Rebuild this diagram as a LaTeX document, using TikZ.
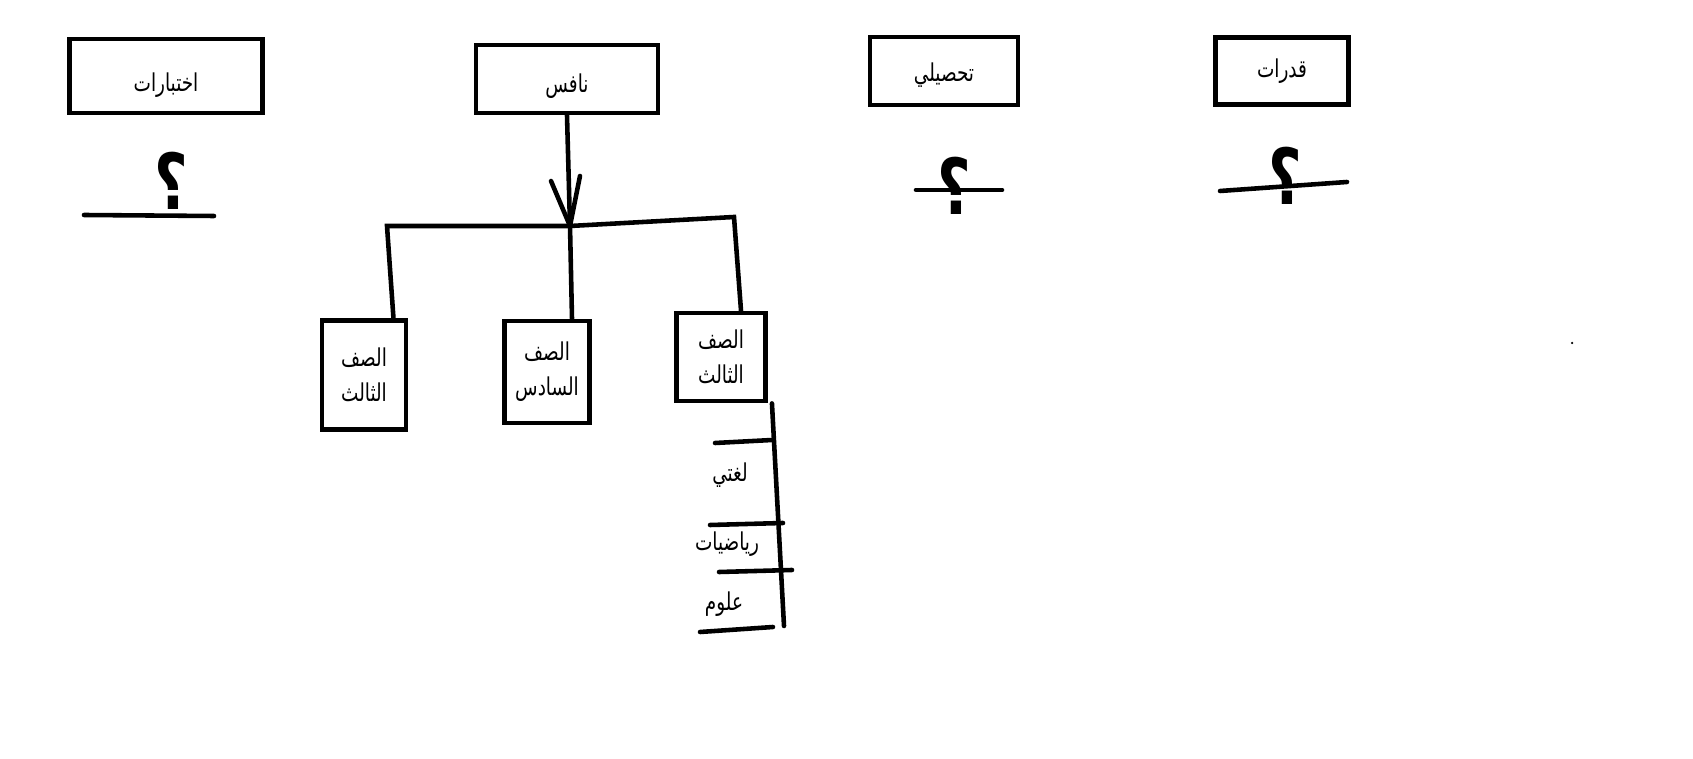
\documentclass[tikz,border=0pt]{standalone}
\usepackage{fontspec}
\newfontfamily\arabicfont[Script=Arabic, FakeStretch=0.75]{DejaVu Sans}
\TeXXeTstate=1

\begin{document}
\begin{tikzpicture}[x=0.02cm, y=-0.02cm, line width=2.6pt, line cap=round,
		box/.style={draw, line width=2.8pt, line cap=rect, inner sep=0pt, align=center, font=\arabicfont\fontsize{14}{20}\selectfont},
		subj/.style={inner sep=0pt, font=\arabicfont\fontsize{14}{20}\selectfont},
		query/.style={inner sep=0pt, font=\arabicfont\bfseries\fontsize{44}{48}\selectfont}]
				\useasboundingbox (0,0) rectangle (1693,759);
				% top row
				\node[box, minimum width=3.86cm, minimum height=1.48cm, text height=0.76cm] (ikhtibarat) at (166,76) {\beginR اختبارات\endR};
				\node[box, minimum width=3.64cm, minimum height=1.36cm, text height=0.66cm] (nafis) at (567,79) {\beginR نافس\endR};
				\node[box, minimum width=2.96cm, minimum height=1.36cm, text height=0.54cm] (tahsili) at (944,71) {\beginR تحصيلي\endR};
				\node[box, minimum width=2.66cm, minimum height=1.34cm] (qudurat) at (1282,71) {\beginR قدرات\endR};
				% question marks
				\node[query] (q1) at (171,181) {\beginR ؟\endR};
				\draw (84,215) -- (214,216);
				\node[query] (q2) at (954,186) {\beginR ؟\endR};
				\draw (916,190) -- (1002,190);
				\node[query] (q3) at (1285,176) {\beginR ؟\endR};
				\draw (1220,191) -- (1347,182);
				% grades
				\node[box, minimum width=1.68cm, minimum height=2.18cm] (gradeA) at (364,375) {\beginR الصف\endR\\\beginR الثالث\endR};
				\node[box, minimum width=1.70cm, minimum height=2.04cm] (gradeB) at (547,372) {\beginR الصف\endR\\\beginR السادس\endR};
				\node[box, minimum width=1.78cm, minimum height=1.76cm] (gradeC) at (721,357) {\beginR الصف\endR\\\beginR الثالث\endR};
				% tree
				\coordinate (fork) at (570,226);
				\coordinate (forkL) at (387,226);
				\coordinate (forkR) at (734,217);
				\draw (nafis.south) -- (fork);
				\draw ([shift={(-19,-45)}]fork) -- (fork) -- ([shift={(10,-50)}]fork);
				\draw ([xshift=-0.3cm]gradeA.north east) -- (forkL) -- (fork) -- (forkR) -- ([xshift=0.4cm]gradeC.north);
				\draw (fork) -- ([xshift=0.5cm]gradeB.north);
				% subjects
				\coordinate (subjEnd) at (784,626);
				\draw ([xshift=0.08cm]gradeC.south east) -- (subjEnd);
				\draw (715,443) -- (772,440);
				\draw (710,525) -- (783,523);
				\draw (719,572) -- (792,570);
				\draw (700,632) -- (773,627);
				\node[subj] (lughati) at (730,475) {\beginR لغتي\endR};
				\node[subj] (riyadiyat) at (727,544) {\beginR رياضيات\endR};
				\node[subj] (ulum) at (724,604) {\beginR علوم\endR};
				\fill[black] (1572,343) circle (0.025cm);
			\end{tikzpicture}
\end{document}
